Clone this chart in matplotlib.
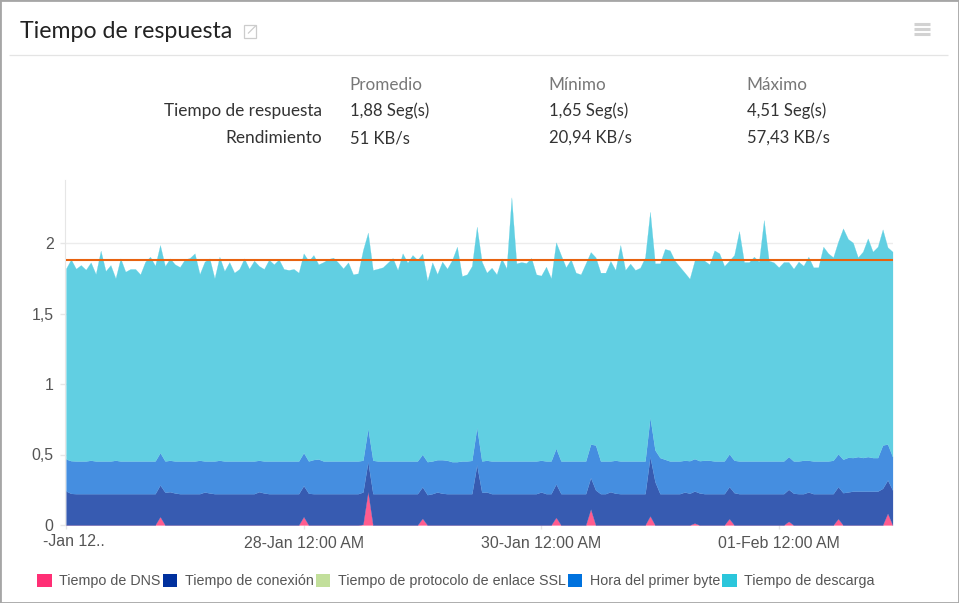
import matplotlib
matplotlib.use("Agg")
import matplotlib.pyplot as plt
from matplotlib.patches import Patch, Rectangle
from matplotlib.lines import Line2D

W, H = 959, 603

dns = [
    0,0,0,0,0,0,0,0,0,0,
    0,0,0,0,0,0,0,0,0,.059,
    0,0,0,0,0,0,0,0,0,0,
    0,0,0,0,0,0,0,0,0,0,
    0,0,0,0,0,0,0,0,.059,0,
    0,0,0,0,0,0,0,0,0,0,
    .005,.236,0,0,0,0,0,0,0,0,
    0,0,.047,0,0,0,0,0,0,0,
    0,0,0,0,0,0,0,0,0,0,
    0,0,0,0,0,0,0,0,0,.054,
    0,0,0,0,0,0,.113,0,0,0,
    0,0,0,0,0,0,0,0,.064,0,
    0,0,0,0,0,0,0,.014,0,0,
    0,0,0,0,.045,0,0,0,0,0,
    0,0,0,0,0,0,.026,0,0,0,
    0,0,0,0,0,0,.045,0,0,0,
    0,0,0,0,0,0,.083,0,
]
conexion_top = [
    .241,.224,.222,.222,.222,.222,.222,.222,.222,.222,
    .222,.222,.222,.222,.222,.222,.222,.222,.222,.284,
    .232,.236,.227,.222,.222,.222,.222,.222,.234,.227,
    .222,.222,.222,.222,.222,.222,.222,.222,.222,.236,
    .227,.222,.222,.222,.222,.222,.222,.222,.279,.225,
    .222,.222,.222,.222,.222,.222,.222,.222,.222,.222,
    .234,.449,.222,.222,.222,.222,.222,.222,.222,.222,
    .222,.222,.270,.215,.222,.234,.225,.222,.222,.222,
    .222,.222,.222,.426,.232,.234,.222,.222,.222,.222,
    .222,.222,.222,.222,.222,.222,.234,.222,.222,.291,
    .222,.222,.222,.222,.222,.222,.336,.248,.222,.222,
    .236,.225,.222,.222,.222,.222,.222,.222,.485,.307,
    .222,.222,.222,.222,.222,.234,.225,.241,.227,.222,
    .222,.222,.222,.222,.272,.229,.222,.222,.222,.222,
    .222,.222,.222,.222,.222,.222,.253,.225,.222,.222,
    .234,.222,.222,.222,.222,.222,.272,.229,.234,.240,
    .240,.240,.240,.240,.240,.260,.319,.248,
]
primer_byte_top = [
    .468,.456,.454,.454,.454,.459,.454,.454,.454,.454,
    .459,.454,.454,.454,.454,.454,.454,.454,.454,.513,
    .454,.459,.454,.454,.454,.454,.454,.459,.454,.454,
    .454,.459,.454,.454,.454,.454,.454,.454,.454,.459,
    .454,.454,.454,.454,.454,.454,.454,.454,.513,.454,
    .464,.468,.454,.454,.454,.454,.454,.454,.454,.454,
    .459,.686,.459,.454,.454,.454,.454,.454,.454,.454,
    .454,.454,.501,.449,.454,.463,.463,.459,.449,.449,
    .454,.454,.458,.693,.454,.459,.454,.454,.454,.454,
    .454,.454,.454,.454,.454,.454,.459,.454,.454,.544,
    .454,.454,.454,.454,.454,.454,.574,.567,.454,.454,
    .454,.459,.454,.454,.454,.454,.454,.454,.764,.532,
    .478,.466,.454,.454,.454,.459,.456,.470,.456,.459,
    .459,.454,.454,.454,.504,.459,.454,.454,.454,.454,
    .454,.454,.454,.454,.454,.454,.485,.454,.454,.459,
    .459,.454,.454,.454,.454,.459,.504,.466,.480,.478,
    .485,.478,.485,.478,.478,.567,.574,.485,
]
descarga_top = [
    1.820,1.884,1.818,1.844,1.811,1.863,1.780,1.946,1.802,1.844,
    1.750,1.891,1.797,1.816,1.816,1.778,1.868,1.903,1.839,1.986,
    1.837,1.891,1.849,1.830,1.884,1.894,1.927,1.780,1.868,1.891,
    1.750,1.903,1.802,1.865,1.790,1.816,1.891,1.818,1.875,1.837,
    1.816,1.882,1.849,1.884,1.816,1.809,1.816,1.790,1.927,1.873,
    1.915,1.849,1.865,1.887,1.896,1.861,1.820,1.863,1.778,1.785,
    1.951,2.074,1.809,1.818,1.828,1.861,1.894,1.809,1.927,1.861,
    1.915,1.880,1.925,1.733,1.863,1.780,1.868,1.818,1.880,1.974,
    1.766,1.778,1.837,2.116,1.868,1.790,1.825,1.778,1.891,1.820,
    2.324,1.856,1.865,1.858,1.894,1.778,1.769,1.832,1.750,2.005,
    1.915,1.828,1.884,1.790,1.778,1.856,1.936,1.899,1.790,1.790,
    1.873,1.809,1.986,1.809,1.854,1.809,1.825,1.899,2.222,1.856,
    1.856,1.958,1.948,1.875,1.832,1.790,1.747,1.875,1.887,1.875,
    1.849,1.948,1.927,1.837,1.875,1.915,2.085,1.865,1.865,1.903,
    1.868,2.163,1.875,1.863,1.828,1.865,1.865,1.818,1.868,1.839,
    1.903,1.828,1.828,1.974,1.927,1.899,2.010,2.104,2.029,2.003,
    1.899,1.939,2.033,1.939,1.974,2.097,1.970,1.939,
]
promedio = 1.88
x_tick_hours = [0, 48, 96, 144]
x_tick_labels = ["", "28-Jan 12:00 AM", "30-Jan 12:00 AM", "01-Feb 12:00 AM"]
first_label = "-Jan 12.."
y_ticks = [0, 0.5, 1, 1.5, 2]
y_tick_labels = ["0", "0,5", "1", "1,5", "2"]
series_names = ["Tiempo de DNS", "Tiempo de conexión", "Tiempo de protocolo de enlace SSL",
                "Hora del primer byte", "Tiempo de descarga"]
series_colors = ["#FF2F75", "#00309E", "#C2DF9B", "#0072DE", "#2BC6DB"]
area_colors = ["#FF5C8F", "#375BB1", "#458EE0", "#61CFE2"]
table_headers = ["Promedio", "Mínimo", "Máximo"]
table_rows = ["Tiempo de respuesta", "Rendimiento"]
table_cells = [["1,88 Seg(s)", "1,65 Seg(s)", "4,51 Seg(s)"],
               ["51 KB/s", "20,94 KB/s", "57,43 KB/s"]]

plt.rcParams["font.family"] = ["Liberation Sans", "DejaVu Sans"]
fig = plt.figure(figsize=(W / 100, H / 100), dpi=100, facecolor="white")


def fx(px):
    return px / W


def fy(py):
    return 1 - py / H


L, R, T, B = 66, 892.5, 180, 525
ax = fig.add_axes([fx(L), fy(B), fx(R - L), (B - T) / H])
hours = list(range(len(descarga_top)))
lower = [0] * len(hours)
for top, c in zip([dns, conexion_top, primer_byte_top, descarga_top], area_colors):
    ax.fill_between(hours, lower, top, facecolor=c, edgecolor=c, linewidth=0.15, zorder=2)
    lower = top
ax.plot(hours, [promedio] * len(hours), color="#E8620F", lw=1.5, zorder=4, solid_capstyle="butt")

ax.set_xlim(0, len(hours) - 1)
ax.set_ylim(0, (B - T) / 141)
ax.set_yticks(y_ticks, y_tick_labels)
ax.set_xticks(x_tick_hours, x_tick_labels)
ax.tick_params(axis="y", length=3.5, width=1, color="#e6e6e6", labelcolor="#555555", labelsize=11.4, pad=5)
ax.tick_params(axis="x", length=3, width=1, color="#e6e6e6", labelcolor="#555555", labelsize=11.4, pad=5)
ax.grid(axis="y", color="#ececec", lw=1, zorder=1)
ax.set_axisbelow(True)
for s in ("top", "right", "bottom"):
    ax.spines[s].set_visible(False)
ax.spines["left"].set_color("#e6e6e6")
ax.spines["left"].set_position(("outward", 0.5))
fig.text(fx(74), fy(541), first_label, ha="center", va="center", fontsize=11.4, color="#555555")

# Legend
handles = [Patch(facecolor=c, edgecolor="none") for c in series_colors]
fig.legend(handles, series_names, loc="center left", bbox_to_anchor=(fx(37), fy(581)), ncols=5,
           frameon=False, fontsize=10.22, labelcolor="#555555", handlelength=1.05, handleheight=1.05,
           handletextpad=0.5, columnspacing=0.15, borderpad=0, borderaxespad=0)

# Header and table
title_font = ["Lato", "DejaVu Sans"]
fig.text(fx(20), fy(32), "Tiempo de respuesta", fontsize=16.7, color="#222222", family=title_font,
         ha="left", va="center")
for px, h, row in zip([350, 549, 747], table_headers, zip(*table_cells)):
    fig.text(fx(px - 1), fy(85), h, fontsize=12.3, color="#777777", family=title_font, va="center")
    for py, cell in zip([111, 138], row):
        fig.text(fx(px), fy(py), cell, fontsize=12.0, color="#333333", family=title_font, va="center")
for py, r in zip([111, 138], table_rows):
    fig.text(fx(322), fy(py), r, fontsize=12.4, color="#333333", family=title_font, ha="right", va="center")


def fline(xs, ys, color, lw):
    fig.add_artist(Line2D([fx(v) for v in xs], [fy(v) for v in ys], color=color, lw=lw,
                          transform=fig.transFigure, solid_capstyle="butt"))


# Chrome
fline([9, 948], [55, 55], "#e4e4e4", 0.9)
for py in (24, 29, 34):
    fline([914, 930], [py, py], "#d2d2d2", 2.2)
fig.add_artist(Rectangle((fx(244), fy(37.5)), 12 / W, 12 / H, fill=False, edgecolor="#cccccc", lw=0.9,
                         transform=fig.transFigure))
fline([248, 256], [33.5, 25.5], "#cccccc", 0.9)
fig.add_artist(Rectangle((0, 0), 1, 1, fill=False, edgecolor="#a6a6a6", lw=2, transform=fig.transFigure))

fig.savefig("out.png", dpi=100, facecolor="white")
